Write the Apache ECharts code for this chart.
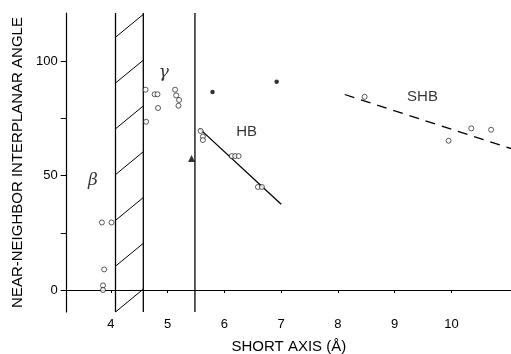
<!DOCTYPE html>
<html>
<head>
<meta charset="utf-8">
<script src="https://cdn.jsdelivr.net/npm/echarts@6/dist/echarts.min.js"></script>
<style>html,body{margin:0;padding:0;background:#fff}#c{width:511px;height:354px}</style>
</head>
<body>
<div id="c"></div>
<script>
// ---- data ----
const xTickLabels = [4, 5, 6, 7, 8, 9, 10];
const yTickLabels = [0, 50, 100];
const yMinorTicks = [0, 25, 50, 75, 100];
const betaPoints = [[3.84, 29.5], [4.01, 29.5], [3.88, 9], [3.86, 2], [3.86, 0]];
const gammaPoints = [[4.61, 87.5], [4.62, 73.5], [4.77, 85.5], [4.82, 85.5], [4.83, 79.5],
                     [5.13, 87.5], [5.15, 85], [5.2, 83], [5.19, 80.5]];
const hbPoints = [[5.58, 69.5], [5.62, 67], [5.62, 65.5], [6.13, 58.5], [6.19, 58.5], [6.25, 58.5],
                  [6.59, 45], [6.66, 45]];
const shbPoints = [[8.47, 84.4], [9.95, 65.2], [10.35, 70.6], [10.7, 70]];
const filledPoints = [[5.79, 86.5], [6.92, 91]];
const trianglePoints = [[5.42, 57.5]];
const hbFit = [[5.56, 70.5], [7.0, 37.5]];
const shbFit = [[8.12, 85.4], [11.05, 61.8]];
const bandEdges = [4.08, 4.57];
const boundary = 5.48;
const regionLabels = [
  { name: 'β', value: [3.68, 48] },
  { name: 'γ', value: [4.93, 95] },
  { name: 'HB', value: [6.39, 69] },
  { name: 'SHB', value: [9.49, 84.3] }
];
const xRange = [3.22, 11.05];
const yRange = [-9.6, 121];

// hatch segments inside the excluded band (every 20 units, rising 10)
const hatch = [];
for (let b = yRange[0]; b < yRange[1] - 5; b += 20) {
  hatch.push([bandEdges[0], b], [bandEdges[1], b + 10], null);
}
const vlines = [];
[bandEdges[0], bandEdges[1], boundary].forEach(x => {
  vlines.push([x, yRange[0]], [x, yRange[1]], null);
});

const font = '"Liberation Sans", Arial, Helvetica, sans-serif';
const openCircle = {
  type: 'scatter', symbol: 'circle', symbolSize: 5, z: 5,
  itemStyle: { color: '#fff', borderColor: '#000', borderWidth: 0.8 }
};

const chart = echarts.init(document.getElementById('c'), null, { renderer: 'canvas' });
chart.setOption({
  animation: false,
  backgroundColor: '#fff',
  textStyle: { fontFamily: font, color: '#000' },
  grid: { left: 66.7, right: 0, top: 13, bottom: 42, containLabel: false, outerBoundsMode: 'none' },
  xAxis: {
    type: 'value', min: xRange[0], max: xRange[1],
    name: 'SHORT AXIS (Å)', nameLocation: 'middle', nameGap: 27,
    nameTextStyle: { fontSize: 15, color: '#000', fontFamily: font },
    axisLine: { show: true, lineStyle: { color: '#000', width: 1.2 } },
    axisTick: { show: true, customValues: xTickLabels, length: 3, lineStyle: { color: '#000' } },
    axisLabel: { customValues: xTickLabels, fontSize: 13, color: '#000', margin: 6, fontFamily: font },
    splitLine: { show: false }
  },
  yAxis: {
    type: 'value', min: yRange[0], max: yRange[1],
    name: 'NEAR-NEIGHBOR INTERPLANAR ANGLE', nameLocation: 'middle', nameGap: 40,
    nameTextStyle: { fontSize: 15, color: '#000', fontFamily: font },
    axisLine: { show: true, lineStyle: { color: '#000', width: 1.2 } },
    axisTick: { show: true, customValues: yMinorTicks, length: 6, lineStyle: { color: '#000' } },
    axisLabel: { customValues: yTickLabels, fontSize: 13, color: '#000', margin: 9, fontFamily: font },
    splitLine: { show: false }
  },
  series: [
    { type: 'line', data: vlines, symbol: 'none', connectNulls: false,
      lineStyle: { color: '#000', width: 1.3 }, z: 2 },
    { type: 'line', data: hatch, symbol: 'none', connectNulls: false,
      lineStyle: { color: '#000', width: 1 }, z: 2 },
    { type: 'line', data: hbFit, symbol: 'none', lineStyle: { color: '#000', width: 1.3 }, z: 3 },
    { type: 'line', data: shbFit, symbol: 'none',
      lineStyle: { color: '#000', width: 1.3, type: [10, 7] }, z: 3 },
    Object.assign({}, openCircle, { data: betaPoints }),
    Object.assign({}, openCircle, { data: gammaPoints }),
    Object.assign({}, openCircle, { data: hbPoints }),
    Object.assign({}, openCircle, { data: shbPoints }),
    { type: 'scatter', data: filledPoints, symbol: 'circle', symbolSize: 4.5,
      itemStyle: { color: '#000' }, z: 5 },
    { type: 'scatter', data: trianglePoints, symbol: 'triangle', symbolSize: 7,
      itemStyle: { color: '#000' }, z: 5 },
    { type: 'scatter', symbolSize: 0, z: 6,
      data: regionLabels.map(d => ({
        name: d.name, value: d.value,
        label: (d.name === 'β' || d.name === 'γ')
          ? { fontFamily: '"DejaVu Serif", "Liberation Serif", serif', fontStyle: 'italic', fontSize: 17 }
          : { fontSize: 15 }
      })),
      label: {
        show: true, position: 'inside', color: '#000',
        formatter: p => p.name,
        fontFamily: font, fontSize: 15
      },
      emphasis: { disabled: true }
    }
  ]
});
</script>
</body>
</html>
